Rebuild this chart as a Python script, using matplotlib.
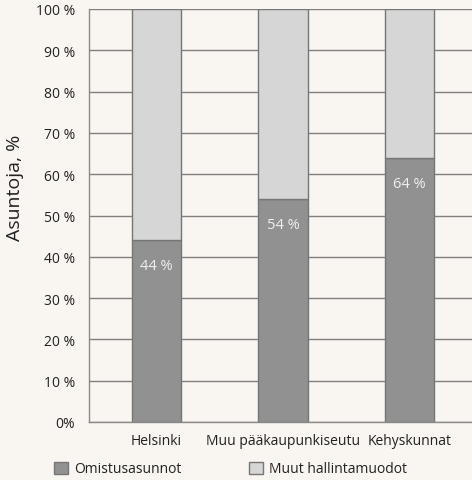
import matplotlib
matplotlib.use("Agg")
import matplotlib.pyplot as plt
from matplotlib.patches import Patch

categories = ["Helsinki", "Muu pääkaupunkiseutu", "Kehyskunnat"]
omistus = [44, 54, 64]
muut = [56, 46, 36]
series_names = ["Omistusasunnot", "Muut hallintamuodot"]
yticks = [0, 10, 20, 30, 40, 50, 60, 70, 80, 90, 100]
ytick_labels = ["0%"] + [f"{v} %" for v in yticks[1:]]

bg = "#f9f5f0"
dark = "#919191"
light = "#d6d6d6"
edge = "#767676"
txt = "#222222"

plt.rcParams['font.family'] = ['Open Sans', 'DejaVu Sans']

fig = plt.figure(figsize=(4.72, 4.81), dpi=100, facecolor=bg)
ax = fig.add_axes([89/472, 1-423/481, (472-89)/472, 413/481])
ax.set_facecolor(bg)

x = list(range(len(categories)))
ax.bar(x, omistus, width=0.39, color=dark, edgecolor=edge, linewidth=1, zorder=3)
ax.bar(x, muut, width=0.39, bottom=omistus, color=light, edgecolor=edge, linewidth=1, zorder=3)

for xi, v in zip(x, omistus):
    ax.text(xi, v - 6.2, f"{v} %", ha="center", va="center", color="#f0f0f0", fontsize=10.5, zorder=4)

ax.set_xlim(-0.533, 2.494)
ax.set_ylim(0, 100)
ax.set_yticks(yticks)
ax.set_yticklabels(ytick_labels, fontsize=10, color=txt)
ax.set_xticks(x)
ax.set_xticklabels(categories, fontsize=10, color=txt)
ax.tick_params(axis="both", length=0)
ax.tick_params(axis="y", pad=10)
ax.tick_params(axis="x", pad=8)
ax.yaxis.grid(True, color="#7f7f7f", linewidth=1, zorder=0)
ax.set_axisbelow(True)
for s in ["top", "right"]:
    ax.spines[s].set_visible(False)
ax.spines["left"].set_color("#8a8a8a")
ax.spines["bottom"].set_color("#8a8a8a")
ax.spines["left"].set_linewidth(1)
ax.spines["bottom"].set_linewidth(1)

fig.text(15/472, 1-188/481, "Asuntoja, %", rotation=90, fontsize=14, color=txt,
         ha="center", va="center")

handles = [Patch(facecolor=dark, edgecolor=edge, linewidth=1),
           Patch(facecolor=light, edgecolor=edge, linewidth=1)]
fig.legend(handles, series_names, ncol=2, loc="center left",
           bbox_to_anchor=(54/472, 1-470/481), frameon=False,
           fontsize=10, labelcolor=txt, handlelength=1.0, handleheight=1.0,
           handletextpad=0.45, columnspacing=4.85, borderaxespad=0, borderpad=0)

fig.savefig("out.png", dpi=100, facecolor=bg)
